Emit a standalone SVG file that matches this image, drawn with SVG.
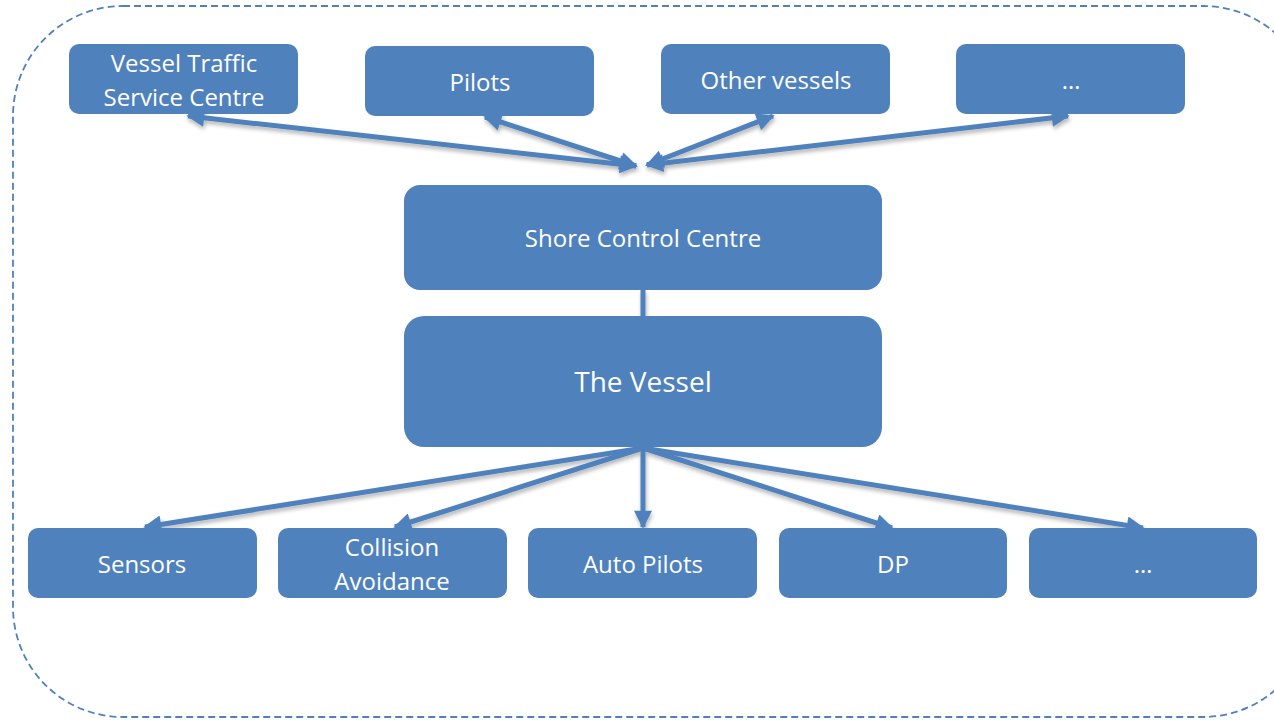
<svg xmlns="http://www.w3.org/2000/svg" width="1274" height="721" viewBox="0 0 1274 721">
<style>
.node rect{fill:#4F81BD;}
.node text{fill:#fff;font-family:"Open Sans","Liberation Sans",sans-serif;font-size:24px;text-anchor:middle;}
.conn line{stroke:#4F81BD;stroke-width:5;}
</style>
<defs>
<marker id="ah" viewBox="0 0 10 10" refX="9" refY="5" markerWidth="4" markerHeight="3.6" orient="auto-start-reverse" markerUnits="strokeWidth">
<path d="M0,0 L10,5 L0,10 Z" fill="#4F81BD"/>
</marker>
<filter id="sh" x="-10%" y="-10%" width="120%" height="130%">
<feGaussianBlur in="SourceAlpha" stdDeviation="2"/>
<feOffset dx="1" dy="3" result="b"/>
<feComponentTransfer><feFuncA type="linear" slope="0.3"/></feComponentTransfer>
<feMerge><feMergeNode/><feMergeNode in="SourceGraphic"/></feMerge>
</filter>
</defs>
<rect x="13" y="6" width="1300" height="711" rx="110" ry="110" fill="none" stroke="#4F81BD" stroke-width="1.8" stroke-dasharray="7 4"/>
<g id="connectors" class="conn" filter="url(#sh)">
<line x1="636" y1="166" x2="188" y2="116" marker-start="url(#ah)" marker-end="url(#ah)"/>
<line x1="636" y1="166" x2="485" y2="117" marker-start="url(#ah)" marker-end="url(#ah)"/>
<line x1="647" y1="165" x2="773" y2="116" marker-start="url(#ah)" marker-end="url(#ah)"/>
<line x1="647" y1="165" x2="1068" y2="116" marker-start="url(#ah)" marker-end="url(#ah)"/>
<line x1="643" y1="290" x2="643" y2="316"/>
<line x1="643" y1="448" x2="145" y2="527" marker-end="url(#ah)"/>
<line x1="643" y1="448" x2="395" y2="527" marker-end="url(#ah)"/>
<line x1="643" y1="448" x2="643" y2="527" marker-end="url(#ah)"/>
<line x1="643" y1="448" x2="892" y2="528" marker-end="url(#ah)"/>
<line x1="643" y1="448" x2="1143" y2="528" marker-end="url(#ah)"/>
</g>
<g id="vts" class="node"><rect x="69" y="44" width="229" height="70" rx="10"/><text x="184" y="72">Vessel Traffic</text><text x="184" y="106">Service Centre</text></g>
<g id="pilots" class="node"><rect x="365" y="46" width="229" height="70" rx="10"/><text x="480" y="91">Pilots</text></g>
<g id="other" class="node"><rect x="661" y="44" width="229" height="70" rx="10"/><text x="776" y="89">Other vessels</text></g>
<g id="more-top" class="node"><rect x="956" y="44" width="229" height="70" rx="10"/><text x="1071" y="89">…</text></g>
<g id="shore" class="node"><rect x="404" y="185" width="478" height="105" rx="16"/><text x="643" y="247">Shore Control Centre</text></g>
<g id="vessel" class="node"><rect x="404" y="316" width="478" height="131" rx="20"/><text x="643" y="392" style="font-size:28px">The Vessel</text></g>
<g id="sensors" class="node"><rect x="28" y="528" width="229" height="70" rx="10"/><text x="142" y="573">Sensors</text></g>
<g id="collision" class="node"><rect x="278" y="528" width="229" height="70" rx="10"/><text x="392" y="556">Collision</text><text x="392" y="590">Avoidance</text></g>
<g id="autopilots" class="node"><rect x="528" y="528" width="229" height="70" rx="10"/><text x="643" y="573">Auto Pilots</text></g>
<g id="dp" class="node"><rect x="779" y="528" width="228" height="70" rx="10"/><text x="893" y="573">DP</text></g>
<g id="more-bottom" class="node"><rect x="1029" y="528" width="228" height="70" rx="10"/><text x="1143" y="573">…</text></g>
</svg>
